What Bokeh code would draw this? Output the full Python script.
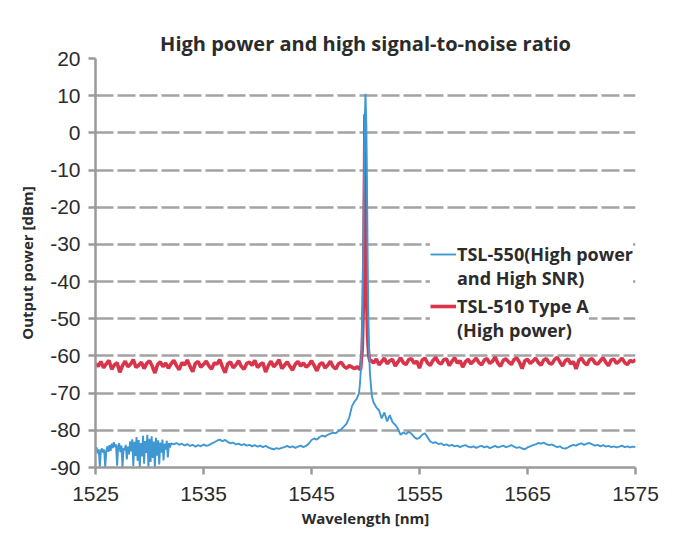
import numpy as np
from bokeh.plotting import figure
from bokeh.models import Range1d, FixedTicker, Legend, LegendItem, CustomJSTickFormatter, Title
from bokeh.embed import file_html
from bokeh.resources import INLINE

title_text = "High power and high signal-to-noise ratio"
x_label = "Wavelength [nm]"
y_label = "Output power [dBm]"
x_ticks = [1525, 1535, 1545, 1555, 1565, 1575]
y_ticks = [-90, -80, -70, -60, -50, -40, -30, -20, -10, 0, 10, 20]
blue_label_lines = ["TSL-550(High power", "and High SNR)"]
red_label_lines = ["TSL-510 Type A", "(High power)"]

# TSL-550 (blue), in segments
blue_a_range = (1525.0, 1532.0)
blue_a = [-85.0, -84.6, -86.2, -85.1, -89.8, -85.4, -84.9, -86.0, -85.2, -90.0,
          -85.6, -84.3, -85.8, -84.0, -85.5, -83.6, -84.8, -83.2, -84.5, -83.8,
          -89.5, -84.2, -83.5, -85.9, -84.1, -90.0, -84.7, -85.3, -83.9, -87.8,
          -84.4, -86.5, -83.0, -85.7, -82.4, -89.6, -83.1, -86.9, -81.8, -88.2,
          -82.6, -90.0, -83.4, -87.0, -81.5, -89.0, -82.9, -86.1, -81.2, -90.0,
          -82.3, -88.5, -81.6, -87.4, -83.0, -90.0, -82.0, -86.8, -82.7, -89.2,
          -83.3, -86.0, -82.5, -88.1, -83.6, -85.2, -82.8, -87.3, -83.4, -84.6,
          -83.5]
blue_b_range = (1532.25, 1549.0)
blue_b = [-83.8, -83.4, -83.9, -83.6, -84.1, -83.7, -84.2, -83.9, -84.4, -84.0,
          -84.3, -83.8, -84.2, -84.0, -83.6, -83.2, -82.8, -82.5, -82.9, -82.6,
          -83.1, -83.5, -83.3, -83.8, -83.6, -84.0, -83.7, -84.1, -83.9, -84.3,
          -84.0, -84.4, -84.1, -84.5, -84.2, -84.6, -84.9, -85.1, -84.8, -85.0,
          -84.7, -84.5, -84.2, -84.6, -84.3, -84.7, -84.4, -84.1, -84.5, -84.2,
          -83.6, -82.6, -82.2, -82.5, -81.8, -81.4, -81.7, -81.2, -80.9, -80.6,
          -80.8, -80.2, -79.7, -79.0, -78.2, -76.5, -73.5, -72.2]
blue_peak_wl = [1549.2, 1549.4, 1549.5, 1549.6, 1549.7, 1549.78, 1549.85, 1549.92,
                1550.0, 1550.08, 1550.15, 1550.22, 1550.3, 1550.4, 1550.5, 1550.6]
blue_peak = [-71.5, -70.0, -67.0, -62.0, -52.0, -35.0, -15.0, 2.0,
             10.5, 2.0, -18.0, -40.0, -56.0, -64.0, -68.0, -71.0]
blue_d_range = (1550.75, 1575.0)
blue_d = [-72.5, -73.8, -74.6, -76.8, -75.2, -77.6, -75.9, -77.8, -78.5, -79.6,
          -81.2, -80.6, -81.0, -80.4, -80.9, -81.8, -82.3, -82.0, -81.2, -80.8,
          -81.9, -83.0, -83.4, -83.2, -83.7, -83.5,
          -84.0, -83.8, -84.2, -83.9, -84.3, -84.1, -84.5, -84.2, -84.0, -84.4,
          -84.6, -84.3, -84.7, -84.4, -84.2, -84.6, -84.3, -84.8, -84.5, -84.2,
          -84.6, -84.4, -84.1, -84.5, -84.3, -84.0, -84.4, -84.7, -84.5, -84.9,
          -85.1, -84.6, -84.3, -84.0, -83.8, -83.4, -83.6, -83.3, -83.7, -84.0,
          -83.8, -84.2, -84.5, -84.3, -84.8, -84.9, -84.6, -84.2, -83.9, -84.1,
          -83.7, -83.5, -83.9, -83.6, -83.4, -83.8, -84.1, -83.9, -84.3, -84.0,
          -84.4, -84.2, -84.5, -84.3, -84.6, -84.4, -84.1, -84.5, -84.3, -84.6,
          -84.4, -84.5]

# TSL-510 Type A (red)
red_left_range = (1525.0, 1549.5)
red_left = [-62.0, -62.8, -61.5, -63.2, -62.1, -61.2, -63.6, -62.4, -61.8, -64.4,
            -62.6, -61.4, -62.9, -62.2, -61.0, -63.1, -62.5, -61.7, -63.4, -62.0,
            -61.3, -62.7, -64.6, -62.3, -61.6, -62.9, -61.9, -63.3, -62.1, -61.2,
            -62.6, -63.7, -61.8, -62.4, -61.1, -62.8, -64.2, -62.0, -61.5, -63.0,
            -62.3, -61.4, -62.7, -63.5, -61.9, -62.2, -61.0, -62.9, -64.5, -62.1,
            -61.6, -63.2, -62.4, -61.3, -62.8, -63.6, -62.0, -61.7, -62.5, -61.2,
            -63.1, -62.3, -61.8, -64.3, -62.6, -61.4, -62.9, -62.1, -61.0, -63.4,
            -62.5, -61.6, -62.8, -63.8, -62.2, -61.5, -62.7, -61.9, -63.0, -62.4,
            -61.3, -62.6, -64.0, -62.3, -61.8, -63.2, -62.5, -61.4, -62.9, -63.5,
            -62.1, -61.7, -62.8, -63.3, -62.6, -63.0, -63.4, -62.9, -63.6]
red_peak_wl = [1549.55, 1549.7, 1549.8, 1549.88, 1549.95, 1550.02, 1550.1, 1550.2, 1550.3, 1550.42]
red_peak = [-63.5, -58.0, -46.0, -25.0, 5.0, -20.0, -44.0, -55.0, -60.0, -61.5]
red_right_range = (1550.5, 1575.0)
red_right = [-61.2, -61.9, -60.8, -62.4, -61.5, -60.6, -62.1, -61.3, -60.9, -62.7,
             -61.6, -60.5, -61.8, -62.3, -61.0, -60.7, -62.0, -61.4, -63.3, -61.1,
             -60.6, -61.9, -62.5, -61.2, -60.4, -61.7, -62.2, -61.0, -60.8, -62.6,
             -61.5, -60.5, -61.9, -61.3, -63.0, -61.6, -60.9, -62.1, -61.4, -60.6,
             -61.8, -62.4, -61.1, -60.7, -62.0, -61.5, -60.3, -61.9, -62.8, -61.2,
             -60.8, -61.6, -62.3, -61.0, -60.5, -61.7, -63.4, -61.3, -60.9, -62.0,
             -61.4, -60.6, -61.8, -62.5, -61.1, -60.7, -61.9, -62.2, -61.0, -60.4,
             -61.6, -62.7, -61.3, -60.8, -62.1, -61.5, -63.5, -61.2, -60.6, -61.8,
             -62.4, -61.0, -60.7, -61.9, -62.2, -61.3, -60.5, -61.7, -62.6, -61.1,
             -60.9, -62.0, -61.4, -60.6, -61.8, -62.3, -61.2, -61.6, -61.0]

def grid(rng, vals):
    return list(np.linspace(rng[0], rng[1], len(vals)))

blue_x = grid(blue_a_range, blue_a) + grid(blue_b_range, blue_b) + blue_peak_wl + grid(blue_d_range, blue_d)
blue_y = blue_a + blue_b + blue_peak + blue_d
red_x = grid(red_left_range, red_left) + red_peak_wl + grid(red_right_range, red_right)
red_y = red_left + red_peak + red_right

BLUE = "#3f98d2"
RED = "#d9344a"
GRID = "#a3a3a3"
AX = "#9a9a9a"
TXT = "#2b2b2b"

W, H = 659, 530
BL, BR, BT, BB = 95, 24, 58, 63

p = figure(width=W, height=H, output_backend="svg", toolbar_location=None,
           x_range=Range1d(1525, 1575), y_range=Range1d(-90, 20),
           min_border_left=BL, min_border_right=BR, min_border_top=BT, min_border_bottom=BB)
p.outline_line_color = None
p.xgrid.grid_line_color = None
p.ygrid.grid_line_color = GRID
p.ygrid.grid_line_width = 2.5
p.ygrid.grid_line_dash = "18 4"

# real title on top, then an invisible spacer between it and the frame
main_title = Title(text=title_text, align="center", vertical_align="bottom",
                   text_font="Open Sans", text_font_style="bold", text_font_size="20px",
                   text_color=TXT, standoff=3)
p.add_layout(main_title, "above")
spacer = Title(text="x", text_font_size="1px", text_alpha=0, standoff=22)
p.add_layout(spacer, "above")

fmt = CustomJSTickFormatter(code="return tick.toFixed(0);")
for ax in (p.xaxis[0], p.yaxis[0]):
    ax.axis_line_color = AX
    ax.axis_line_width = 2.5
    ax.major_tick_line_color = AX
    ax.major_tick_line_width = 2.5
    ax.major_tick_out = 7
    ax.major_tick_in = 0
    ax.minor_tick_line_color = None
    ax.formatter = fmt
    ax.major_label_text_font = "Liberation Sans"
    ax.major_label_text_font_size = "21px"
    ax.major_label_text_color = TXT
    ax.axis_label_text_font = "Open Sans"
    ax.axis_label_text_font_style = "bold"
    ax.axis_label_text_font_size = "15px"
    ax.axis_label_text_color = TXT

p.xaxis.ticker = FixedTicker(ticks=x_ticks)
p.yaxis.ticker = FixedTicker(ticks=y_ticks)
p.xaxis.axis_label = x_label
p.yaxis.axis_label = y_label
p.xaxis.major_label_standoff = 12
p.yaxis.major_label_standoff = 8
p.xaxis.axis_label_standoff = 4
p.yaxis.axis_label_standoff = 10

r_red = p.line(red_x, red_y, line_color=RED, line_width=3.6)
r_blue = p.line(blue_x, blue_y, line_color=BLUE, line_width=1.9)
r_none = p.line([], [], line_alpha=0)

def make_legend(lines, renderer, loc):
    lg = Legend(items=[LegendItem(label=lines[0], renderers=[renderer]),
                       LegendItem(label=lines[1], renderers=[r_none])],
                location=loc)
    lg.border_line_color = None
    lg.background_fill_color = "white"
    lg.background_fill_alpha = 1.0
    lg.label_text_font = "Open Sans"
    lg.label_text_font_style = "bold"
    lg.label_text_font_size = "18px"
    lg.label_text_color = TXT
    lg.label_height = 22
    lg.glyph_height = 22
    lg.glyph_width = 26
    lg.label_standoff = 1
    lg.spacing = 0
    lg.padding = 4
    lg.margin = 0
    return lg

p.add_layout(make_legend(blue_label_lines, r_blue, (335, 177)), "center")
p.add_layout(make_legend(red_label_lines, r_red, (335, 125)), "center")

open("out.html", "w").write(file_html(p, INLINE))
